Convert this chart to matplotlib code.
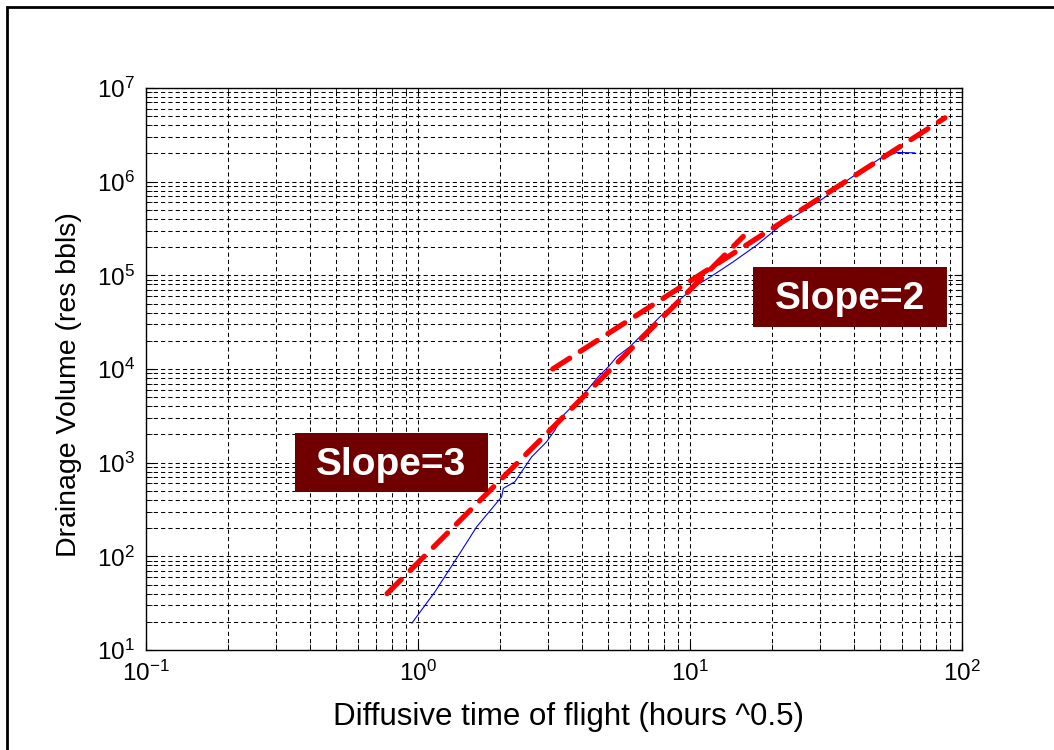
import matplotlib
matplotlib.use('Agg')
import matplotlib.pyplot as plt
from matplotlib.patches import Rectangle

plt.rcParams['font.family'] = ['Liberation Sans', 'DejaVu Sans']
plt.rcParams['mathtext.fontset'] = 'custom'
plt.rcParams['mathtext.rm'] = 'Liberation Sans'
plt.rcParams['mathtext.it'] = 'Liberation Sans:italic'
plt.rcParams['mathtext.bf'] = 'Liberation Sans:bold'
plt.rcParams['mathtext.default'] = 'regular'
plt.rcParams['axes.unicode_minus'] = False

# drainage volume curve
tof = [0.95, 1.155, 1.426, 1.644, 2.03, 2.06, 2.27, 2.62, 2.97, 3.19, 3.38,
       4.00, 4.60, 5.01, 5.38, 6.01, 7.03, 7.98, 9.44, 10.6, 11.9, 14.4,
       17.6, 22.0, 30.9, 38.7, 50.0, 57.6, 67.1]
volume = [19.4, 41.9, 108, 207, 432, 532, 625, 1156, 1671, 2230, 3090,
          5050, 8260, 10550, 13500, 17260, 27100, 39200, 59000, 78500, 96400, 1.39e5,
          2.1e5, 3.58e5, 6.62e5, 1.08e6, 1.77e6, 2.05e6, 2.03e6]

# hand drawn slope guides (end points)
slope3_x = [0.77, 15.7]
slope3_y = [40, 2.6e5]
slope2_x = [3.13, 86.6]
slope2_y = [1.0e4, 4.8e6]

x_decades = [0.1, 1, 10, 100]
y_decades = [1e1, 1e2, 1e3, 1e4, 1e5, 1e6, 1e7]

fig = plt.figure(figsize=(10.54, 7.5), dpi=100)
ax = fig.add_axes([0.1385, 0.1333, 0.7742, 0.7494])

ax.loglog(tof, volume, color='#0000ff', lw=0.8, zorder=3)
ax.loglog(slope3_x, slope3_y, color='#ff0000', lw=3.8, dashes=(3.8, 2.4),
          solid_capstyle='round', dash_capstyle='round', zorder=4)
ax.loglog(slope2_x, slope2_y, color='#ff0000', lw=3.8, dashes=(3.8, 2.4),
          solid_capstyle='round', dash_capstyle='round', zorder=4)

ax.set_xticks(x_decades)
ax.set_yticks(y_decades)
ax.set_xlim(0.1, 100)
ax.set_ylim(10, 1e7)
ax.grid(True, which='both', color='black', lw=0.75, linestyle=(0, (4, 3)))
ax.tick_params(which='both', direction='in', top=True, right=True, labelsize=17.5, pad=8)
ax.tick_params(which='major', length=6)
ax.tick_params(which='minor', length=4)
for s in ax.spines.values():
    s.set_linewidth(1.0)

ax.set_xlabel('Diffusive time of flight (hours ^0.5)', fontsize=22.5)
ax.set_ylabel('Drainage Volume (res bbls)', fontsize=20.5)
ax.xaxis.set_label_coords(0.518, -0.092)
ax.yaxis.set_label_coords(-0.078, 0.4715)

# label boxes
fig.patches.append(Rectangle((0.2799, 0.344), 0.1831, 0.0787, transform=fig.transFigure,
                             facecolor='#700000', edgecolor='none', zorder=5))
fig.text(0.3714, 0.3667, 'Slope=3', color='white', fontsize=28, fontweight='bold',
         ha='center', va='baseline', zorder=6)
fig.patches.append(Rectangle((0.7141, 0.5644), 0.184, 0.08, transform=fig.transFigure,
                             facecolor='#700000', edgecolor='none', zorder=5))
fig.text(0.8062, 0.5884, 'Slope=2', color='white', fontsize=28, fontweight='bold',
         ha='center', va='baseline', zorder=6)

# slide frame
fig.patches.append(Rectangle((0.0066, -0.1), 1.2, 1.0907, transform=fig.transFigure,
                             facecolor='none', edgecolor='black', lw=2))

fig.savefig('out.png', dpi=100)
